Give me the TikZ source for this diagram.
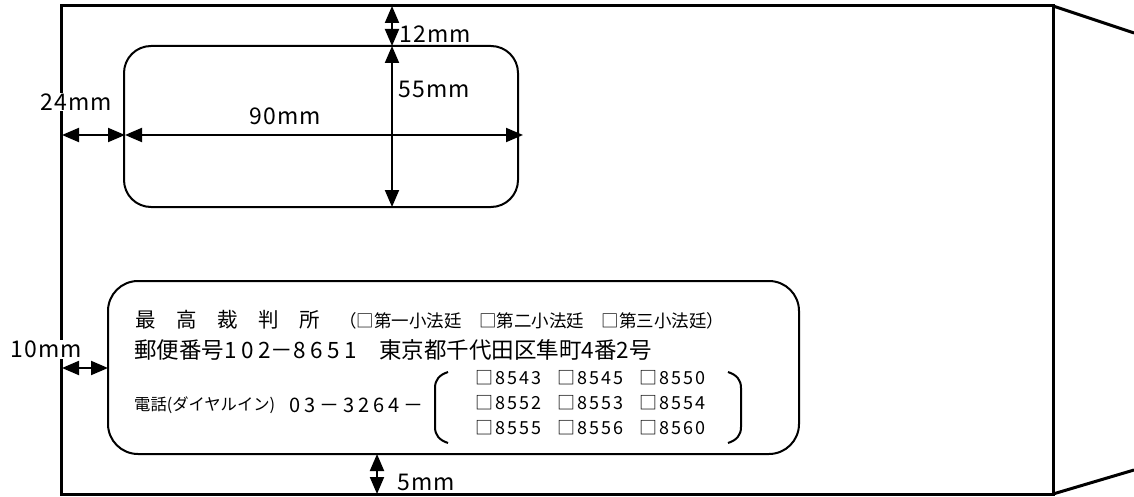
\documentclass[tikz,border=0pt]{standalone}
\usepackage{fontspec}
\setmainfont{Noto Sans CJK JP}
\newfontfamily\jp{Noto Sans CJK JP}
\newfontfamily\jpdimf[LetterSpace=5]{Noto Sans CJK JP}
\newfontfamily\jpdigA[LetterSpace=20]{Noto Sans CJK JP}
\newfontfamily\jpdigB[LetterSpace=12]{Noto Sans CJK JP}
\usetikzlibrary{arrows.meta}
\begin{document}
\begin{tikzpicture}[x=1pt,y=-1pt,
  frame/.style={line width=3pt},
  win/.style={line width=2pt},
  dim/.style={line width=2pt,{Triangle[length=17pt,width=14pt]}-{Triangle[length=17pt,width=14pt]}},
  lbl/.style={font=\jpdimf\fontsize{23}{23}\selectfont, inner sep=1pt, fill=white},
  txt/.style={inner sep=0pt, anchor=west},
  num/.style={inner sep=0pt, anchor=west, font=\jpdigB\fontsize{18}{18}\selectfont},
  brk/.style={line width=2pt}]
\useasboundingbox (0,0) rectangle (1134,497);
% envelope
\coordinate (eTL) at (61,6);
\coordinate (eTR) at (1053,6);
\coordinate (eBL) at (61,494);
\coordinate (eBR) at (1053,494);
\coordinate (fT) at (1134,33);
\coordinate (fB) at (1134,470);
% windows
\coordinate (wTL) at (124,46);
\coordinate (wBR) at (518,207);
\coordinate (bTL) at (108,281);
\coordinate (bBR) at (799,454);
% dimension points
\coordinate (aTop) at (392,6);
\coordinate (aMid) at (392,46);
\coordinate (aBot) at (392,207);
\coordinate (hL) at (62,135);
\coordinate (hM) at (125,135);
\coordinate (hR) at (523,135);
\coordinate (tL) at (62,368);
\coordinate (tR) at (108,368);
\coordinate (fiveT) at (377,454);
\coordinate (fiveB) at (377,494);

\draw[frame] (eTL) rectangle (eBR);
\draw[frame] (eTR) -- (fT);
\draw[frame] (eBR) -- (fB);

\node[lbl] (l24) at (76,102) {24mm};
\node[lbl] (l10) at (46,349) {10mm};

\draw[win, rounded corners=27pt] (wTL) rectangle (wBR);
\draw[win, rounded corners=30pt] (bTL) rectangle (bBR);

\draw[dim] (aTop) -- (aMid);
\draw[dim] (aMid) -- (aBot);
\draw[dim] (hL) -- (hM);
\draw[dim] (hM) -- (hR);
\draw[dim] (tL) -- (tR);
\draw[dim] (fiveT) -- (fiveB);

\node[lbl, anchor=west, fill=none] (l12) at (398,34) {12mm};
\node[lbl, anchor=west, fill=none] (l55) at (397,89) {55mm};
\node[lbl, fill=none] (l90) at (285,116) {90mm};
\node[lbl, anchor=west, fill=none] (l5) at (396,482) {5mm};

% address text
\node[txt, font=\jp\fontsize{20.5}{20.5}\selectfont] (t1) at (135,320) {最　高　裁　判　所};
\node[txt, font=\jp\fontsize{17.5}{17.5}\selectfont] (t1b) at (339,321) {（□第一小法廷　□第二小法廷　□第三小法廷）};
\node[txt, font=\jp\fontsize{22.5}{22.5}\selectfont] (t2) at (134,350) {郵便番号{\jpdigA 102}－{\jpdigA 8651}　東京都千代田区隼町{\jpdigA 4}番{\jpdigA 2}号};
\node[txt, font=\jp\fontsize{16.3}{16.3}\selectfont] (t3) at (134,405) {電話(ダイヤルイン)};
\node[txt, font=\jpdigA\fontsize{20}{20}\selectfont] (t3b) at (289,405) {03－3264－};

% brackets
\coordinate (lbT) at (448,372);
\coordinate (lbB) at (448,443);
\coordinate (rbT) at (728,372);
\coordinate (rbB) at (728,443);
\draw[brk] (lbT) .. controls (439,375) and (435,380) .. (435,388) -- (435,427) .. controls (435,435) and (439,440) .. (lbB);
\draw[brk] (rbT) .. controls (737,375) and (741,380) .. (741,388) -- (741,427) .. controls (741,435) and (737,440) .. (rbB);

\node[num] (n1) at (475,378) {□8543};
\node[num] (n2) at (557,378) {□8545};
\node[num] (n3) at (639,378) {□8550};
\node[num] (n4) at (475,403) {□8552};
\node[num] (n5) at (557,403) {□8553};
\node[num] (n6) at (639,403) {□8554};
\node[num] (n7) at (475,428) {□8555};
\node[num] (n8) at (557,428) {□8556};
\node[num] (n9) at (639,428) {□8560};
\end{tikzpicture}
\end{document}
